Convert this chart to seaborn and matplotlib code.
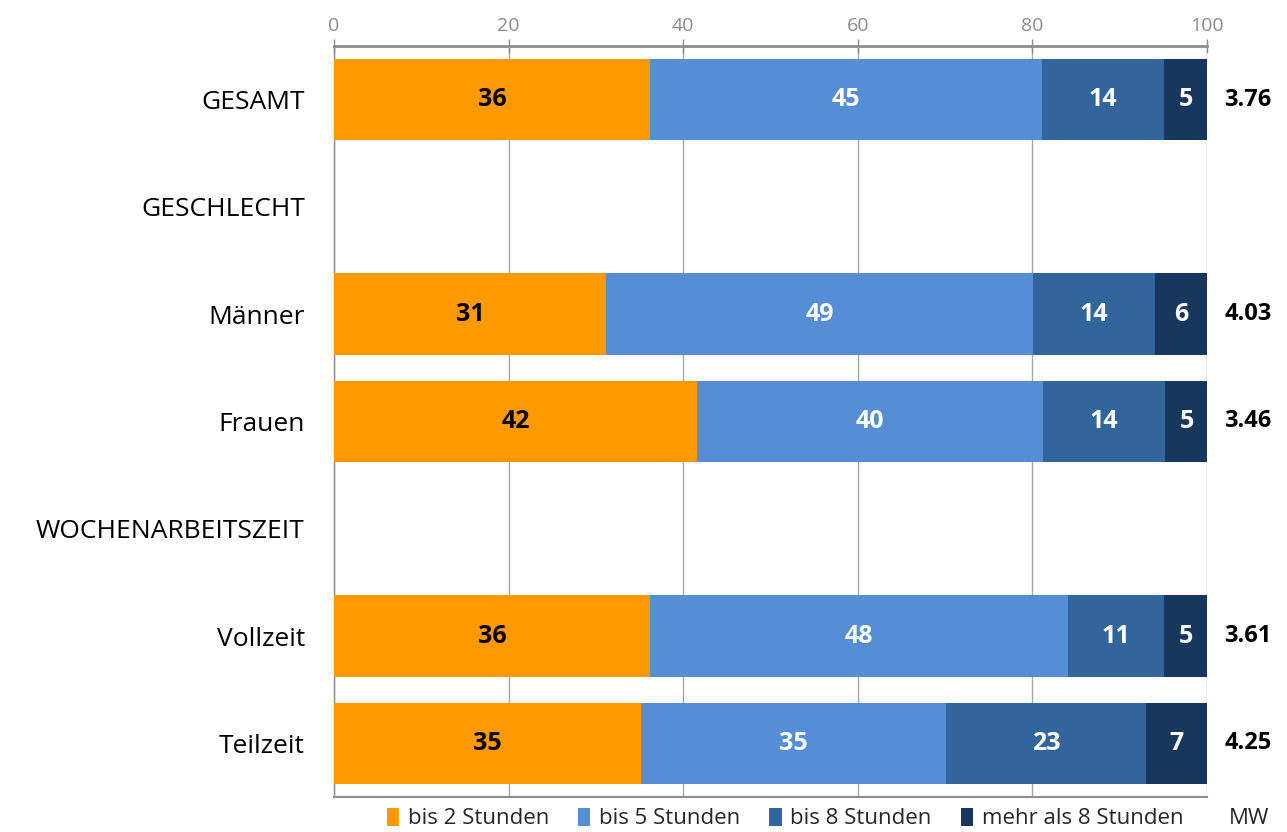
import matplotlib
matplotlib.use("Agg")
import matplotlib.pyplot as plt
import seaborn as sns
import numpy as np
import pandas as pd
from matplotlib.patches import Patch

categories = ["GESAMT", "GESCHLECHT", "Männer", "Frauen", "WOCHENARBEITSZEIT", "Vollzeit", "Teilzeit"]
bis2 = [36.2, np.nan, 31.2, 41.6, np.nan, 36.2, 35.2]
bis5 = [44.9, np.nan, 48.9, 39.6, np.nan, 47.9, 34.9]
bis8 = [14.0, np.nan, 13.9, 14.0, np.nan, 11.0, 22.9]
mehr8 = [4.9, np.nan, 6.0, 4.9, np.nan, 4.9, 7.0]
mw = ["3.76", "", "4.03", "3.46", "", "3.61", "4.25"]
series_names = ["bis 2 Stunden", "bis 5 Stunden", "bis 8 Stunden", "mehr als 8 Stunden"]
x_ticks = [0, 20, 40, 60, 80, 100]

colors = ["#FF9900", "#558ED5", "#31659B", "#17375E"]
text_colors = ["black", "white", "white", "white"]

sns.set_theme(style="white")
plt.rcParams['font.family'] = ['Open Sans', 'DejaVu Sans']

fig = plt.figure(figsize=(12.87, 8.32), dpi=100)
ax = fig.add_axes([0.2595, 0.0421, 0.6784, 0.9026])

df = pd.DataFrame({"cat": categories, "s1": bis2, "s2": bis5, "s3": bis8, "s4": mehr8})
vals = df[["s1", "s2", "s3", "s4"]].to_numpy()
cums = np.cumsum(vals, axis=1)
df["c1"], df["c2"], df["c3"], df["c4"] = cums[:, 0], cums[:, 1], cums[:, 2], cums[:, 3]

for i in [3, 2, 1, 0]:
    sns.barplot(data=df, x=f"c{i+1}", y="cat", order=categories, color=colors[i],
                width=0.76, orient="h", ax=ax, saturation=1, linewidth=0, zorder=3)

# segment labels
for r in range(len(categories)):
    if np.isnan(vals[r, 0]):
        continue
    left = 0
    for i in range(4):
        v = vals[r, i]
        ax.text(left + v / 2, r, f"{v:.0f}", ha="center", va="center", color=text_colors[i],
                fontsize=18, fontweight="bold", zorder=5)
        left += v
    ax.text(102, r, mw[r], ha="left", va="center", color="black", fontsize=17,
            fontweight="bold", clip_on=False)

ax.set_xlim(0, 100)
ax.set_ylim(6.5, -0.5)
ax.xaxis.tick_top()
ax.set_xticks(x_ticks)
ax.set_xticklabels([str(t) for t in x_ticks], color="#8C8C8C", fontsize=14)
ax.tick_params(axis="x", which="major", direction="inout", length=10, width=1, color="#8C8C8C", pad=3)
ax.grid(axis="x", color="#A6A6A6", linewidth=1, zorder=0)
ax.set_axisbelow(True)

ax.set_yticks(range(len(categories)))
ax.set_yticklabels(categories, fontsize=19, color="black")
ax.tick_params(axis="y", which="major", length=0, pad=21)
ax.set_yticks(np.arange(-0.5, 7.0, 1.0), minor=True)
ax.tick_params(axis="y", which="minor", length=6.5, width=1, color="#8C8C8C", direction="out")

ax.set_xlabel("")
ax.set_ylabel("")
for s in ["top", "left", "bottom"]:
    ax.spines[s].set_visible(True)
    ax.spines[s].set_color("#8C8C8C")
ax.spines["top"].set_linewidth(2)
ax.spines["left"].set_linewidth(1)
ax.spines["bottom"].set_linewidth(1.5)
ax.spines["right"].set_visible(False)

handles = [Patch(facecolor=c, edgecolor="none") for c in colors]
fig.legend(handles, series_names, loc="center", bbox_to_anchor=(0.61, 0.016), ncol=4,
           frameon=False, fontsize=16, handlelength=0.55, handleheight=0.85, handletextpad=0.4,
           columnspacing=1.3, borderaxespad=0)
fig.text(0.955, 0.016, "MW", ha="left", va="center", fontsize=16)

fig.savefig("out.png", dpi=100)
